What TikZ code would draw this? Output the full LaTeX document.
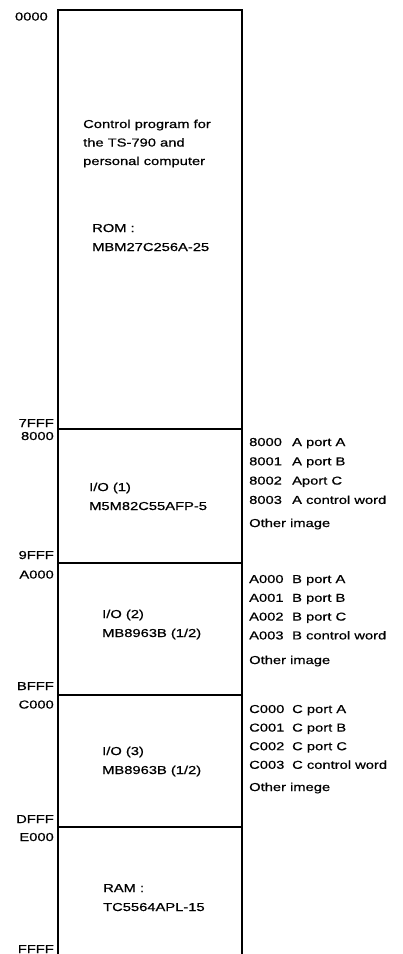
\documentclass[tikz,border=0pt]{standalone}
\usepackage{fontspec}
\newfontfamily\mapfont[FakeStretch=1.28, FakeBold=0.6]{Liberation Sans}

\begin{document}
\begin{tikzpicture}[
    x=1pt, y=-1pt,
    wall/.style={line width=2pt, black},
    addr/.style={font=\mapfont\fontsize{11.5}{14}\selectfont, anchor=base east, inner sep=0pt},
    chip/.style={font=\mapfont\fontsize{11.5}{14}\selectfont, anchor=base west, inner sep=0pt},
    port/.style={font=\mapfont\fontsize{11.5}{14}\selectfont, anchor=base west, inner sep=0pt},
]
\useasboundingbox (0,0) rectangle (402,954);

% ===================== Contorno del mapa =====================
\draw[wall] (58,954) -- (58,10) -- (242,10) -- (242,954);
\foreach \y in {429, 563, 695, 827} {
    \draw[wall] (58,\y) -- (242,\y);
}

% ===================== Direcciones =====================
\node[addr] (a0000) at (48,20.5) {0000};
\foreach \n/\y in {7FFF/427, 8000/440, 9FFF/559, A000/578.5,
                   BFFF/690, C000/708.5, DFFF/823, E000/841, FFFF/953} {
    \node[addr] (a\n) at (54,\y) {\n};
}

% ===================== ROM =====================
\foreach \i/\t in {0/Control program for, 1/the TS-790 and, 2/personal computer} {
    \node[chip] (prog\i) at (83,128+18.5*\i) {\t};
}
\node[chip] (rom) at (92,232) {ROM :};
\node[chip] (romchip) at (92,251) {MBM27C256A-25};

% ===================== I/O =====================
\node[chip] (io1) at (89,491) {I/O (1)};
\node[chip] (io1chip) at (89,510) {M5M82C55AFP-5};

\node[chip] (io2) at (102,618) {I/O (2)};
\node[chip] (io2chip) at (102,637) {MB8963B (1/2)};

\node[chip] (io3) at (102,755) {I/O (3)};
\node[chip] (io3chip) at (102,774) {MB8963B (1/2)};

% ===================== RAM =====================
\node[chip] (ram) at (103,892) {RAM :};
\node[chip] (ramchip) at (103,911) {TC5564APL-15};

% ===================== Puertos =====================
\foreach \i/\a/\t in {0/8000/A port A, 1/8001/A port B, 2/8002/Aport C,
                      3/8003/A control word} {
    \node[port] (pa\i) at (249,446+19.3*\i) {\makebox[43pt][l]{\a}\t};
}
\node[port] (paother) at (249,527) {Other image};

\foreach \i/\a/\t in {0/A000/B port A, 1/A001/B port B, 2/A002/B port C,
                      3/A003/B control word} {
    \node[port] (pb\i) at (249,583+18.8*\i) {\makebox[43pt][l]{\a}\t};
}
\node[port] (pbother) at (249,664) {Other image};

\foreach \i/\a/\t in {0/C000/C port A, 1/C001/C port B, 2/C002/C port C,
                      3/C003/C control word} {
    \node[port] (pc\i) at (249,713+18.6*\i) {\makebox[43pt][l]{\a}\t};
}
\node[port] (pcother) at (249,791) {Other imege};

\end{tikzpicture}
\end{document}
